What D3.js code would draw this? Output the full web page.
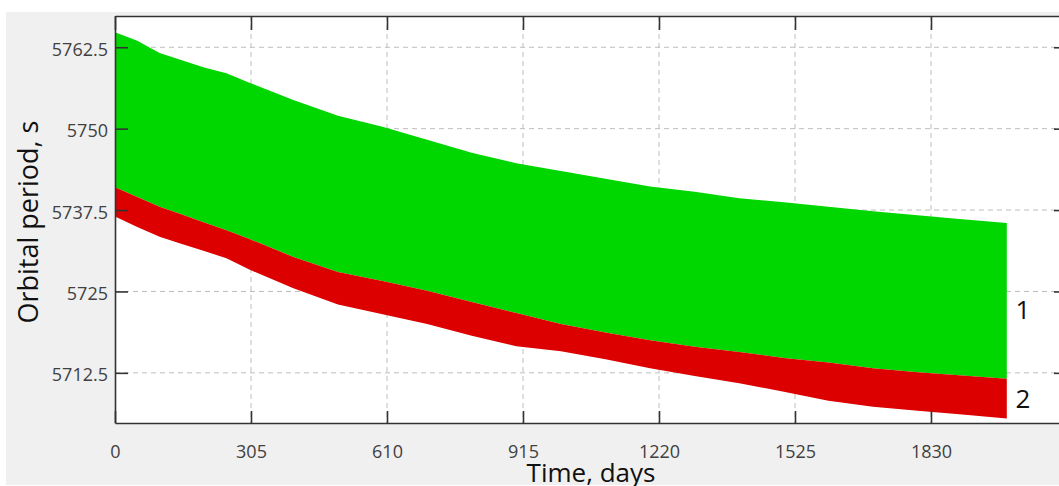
<!DOCTYPE html>
<html>
<head>
<meta charset="utf-8">
<script src="https://cdn.jsdelivr.net/npm/d3@7"></script>
<style>
	body { margin: 0; background: #fff; }
	text { font-family: "Open Sans", "Noto Sans", sans-serif; }
	.tick text { fill: #404040; font-size: 18px; }
	.axis path, .axis line { stroke: #333; stroke-width: 1.6; }
	.grid { stroke: #bdbdbd; stroke-width: 1; stroke-dasharray: 5,4; }
</style>
</head>
<body>
<div id="chart"></div>
<script>

// time samples, days
var days = [0, 50, 100, 150, 200, 250, 300, 400, 500, 600, 700, 800, 900, 1000,
	1100, 1200, 1300, 1400, 1500, 1600, 1700, 1800, 1900, 2000];

// top edge of band 1 (green)
var band1Top = [5764.8, 5763.5, 5761.6, 5760.5, 5759.4, 5758.5, 5757.1, 5754.4, 5752.0, 5750.3,
	5748.3, 5746.3, 5744.7, 5743.5, 5742.3, 5741.1, 5740.3, 5739.3, 5738.7, 5738.0,
	5737.3, 5736.7, 5736.1, 5735.5];

// boundary between band 1 and band 2
var band2Top = [5741.0, 5739.5, 5738.0, 5736.8, 5735.6, 5734.4, 5733.1, 5730.3, 5728.0, 5726.6,
	5725.1, 5723.4, 5721.7, 5720.0, 5718.7, 5717.5, 5716.5, 5715.7, 5714.8, 5714.1,
	5713.2, 5712.6, 5712.1, 5711.6];

// bottom edge of band 2 (red)
var band2Bottom = [5736.5, 5734.9, 5733.4, 5732.3, 5731.2, 5730.1, 5728.4, 5725.5, 5723.0, 5721.5,
	5720.0, 5718.2, 5716.6, 5715.8, 5714.6, 5713.2, 5712.0, 5710.9, 5709.6, 5708.2,
	5707.3, 5706.7, 5706.1, 5705.5];

var xTicks = [0, 305, 610, 915, 1220, 1525, 1830, 2135];
var yTicks = [5712.5, 5725, 5737.5, 5750, 5762.5];

var width = 1059, height = 486;
var plotL = 115, plotR = 1067, plotT = 16, plotB = 423;

var svg = d3.select("#chart").append("svg")
	.attr("width", width)
	.attr("height", height);

var x = d3.scaleLinear().domain([0, 2135]).range([plotL, plotR]);
var y = d3.scaleLinear().domain([5704.8, 5767.3]).range([plotB, plotT]);

// figure background + plot panel
svg.append("rect")
	.attr("x", 6).attr("y", 12)
	.attr("width", width - 6).attr("height", 473)
	.attr("fill", "#f0f0f0");

svg.append("rect")
	.attr("x", plotL).attr("y", plotT)
	.attr("width", plotR - plotL).attr("height", plotB - plotT)
	.attr("fill", "#fff");

// dashed grid
svg.selectAll("line.gx")
	.data(xTicks.slice(1))
	.enter()
	.append("line")
	.attr("class", "grid gx")
	.attr("x1", function(d) { return x(d); })
	.attr("x2", function(d) { return x(d); })
	.attr("y1", plotT)
	.attr("y2", plotB);

svg.selectAll("line.gy")
	.data(yTicks)
	.enter()
	.append("line")
	.attr("class", "grid gy")
	.attr("x1", plotL)
	.attr("x2", plotR)
	.attr("y1", function(d) { return y(d); })
	.attr("y2", function(d) { return y(d); });

// bands
var rows = days.map(function(d, i) {
	return { day: d, a: band1Top[i], b: band2Top[i], c: band2Bottom[i] };
});

var greenArea = d3.area()
	.x(function(d) { return x(d.day); })
	.y0(function(d) { return y(d.b); })
	.y1(function(d) { return y(d.a); });

var redArea = d3.area()
	.x(function(d) { return x(d.day); })
	.y0(function(d) { return y(d.c); })
	.y1(function(d) { return y(d.b); });

svg.append("path")
	.datum(rows)
	.attr("d", greenArea)
	.attr("fill", "#00d700");

svg.append("path")
	.datum(rows)
	.attr("d", redArea)
	.attr("fill", "#dc0000");

// axes, ticks pointing inward
svg.append("g")
	.attr("class", "axis")
	.attr("transform", "translate(0," + plotB + ")")
	.call(d3.axisBottom(x).tickValues(xTicks).tickSize(-12).tickSizeOuter(0).tickPadding(22)
		.tickFormat(function(d) { return d < 2135 ? String(d) : ""; }));

svg.append("g")
	.attr("class", "axis")
	.attr("transform", "translate(" + plotL + ",0)")
	.call(d3.axisLeft(y).tickValues(yTicks).tickSize(-13).tickSizeOuter(0).tickPadding(7)
		.tickFormat(function(d) { return String(d); }))
	.selectAll("text")
	.attr("dy", "0.45em");

svg.append("g")
	.attr("class", "axis")
	.attr("transform", "translate(0," + plotT + ")")
	.call(d3.axisTop(x).tickValues(xTicks).tickSize(-14).tickSizeOuter(0).tickFormat(""));

svg.append("g")
	.attr("class", "axis")
	.attr("transform", "translate(" + plotR + ",0)")
	.call(d3.axisRight(y).tickValues(yTicks).tickSize(-13).tickSizeOuter(0).tickFormat(""));

svg.selectAll(".axis .domain").attr("fill", "none");

// axis titles
svg.append("text")
	.attr("x", 591)
	.attr("y", 482)
	.attr("text-anchor", "middle")
	.attr("font-size", 26)
	.attr("fill", "#111")
	.text("Time, days");

svg.append("text")
	.attr("transform", "translate(38,222) rotate(-90)")
	.attr("text-anchor", "middle")
	.attr("font-size", 27)
	.attr("fill", "#111")
	.text("Orbital period, s");

// band labels
var bandLabels = ["1", "2"];
var bandLabelY = [319, 408];

svg.selectAll("text.band")
	.data(bandLabels)
	.enter()
	.append("text")
	.attr("class", "band")
	.attr("x", 1023)
	.attr("y", function(d, i) { return bandLabelY[i]; })
	.attr("text-anchor", "middle")
	.attr("font-size", 26)
	.attr("fill", "#111")
	.text(function(d) { return d; });

</script>
</body>
</html>
